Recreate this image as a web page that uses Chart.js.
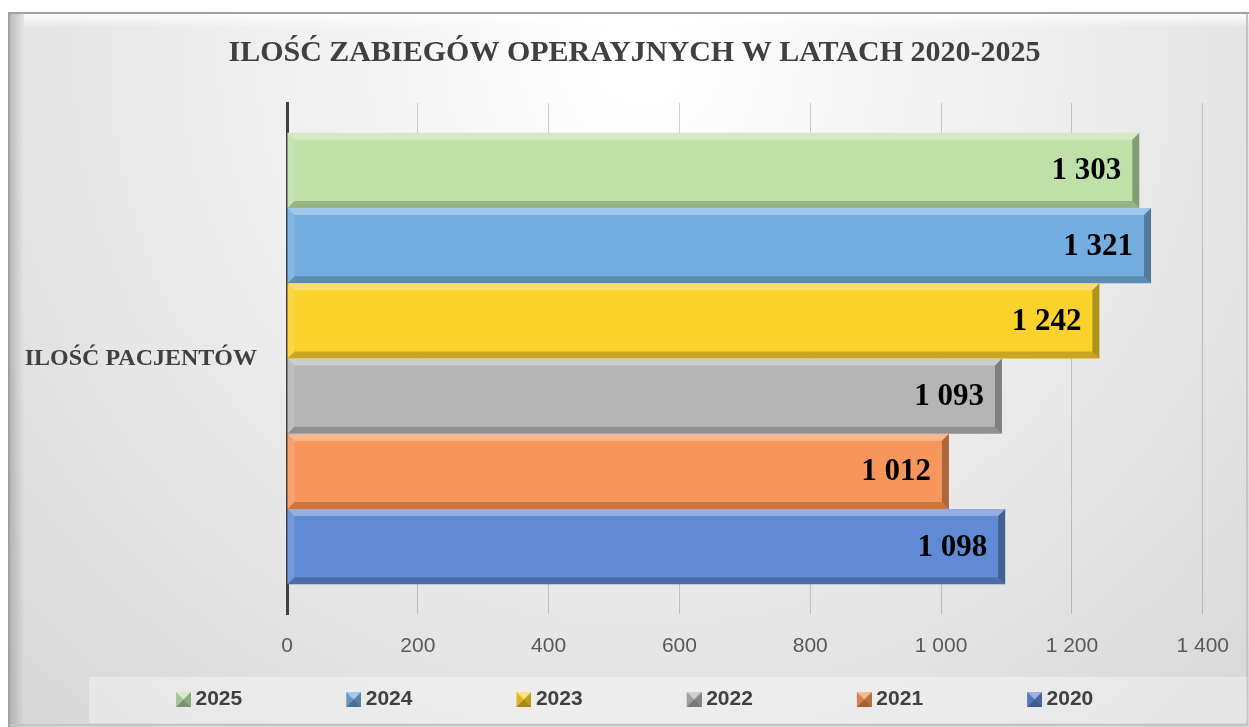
<!DOCTYPE html>
<html lang="pl">
<head>
<meta charset="utf-8">
<title>Ilość zabiegów operacyjnych</title>
<script src="https://cdn.jsdelivr.net/npm/chart.js@4/dist/chart.umd.min.js"></script>
<style>
  html, body { margin: 0; padding: 0; background: #ffffff; }
  #wrap { width: 1249px; height: 727px; }
</style>
</head>
<body>
<div id="wrap"><canvas id="myChart" width="1249" height="727"></canvas></div>
<script>
'use strict';

// Data

let categories = ['ILOŚĆ PACJENTÓW'];
let years = ['2025', '2024', '2023', '2022', '2021', '2020'];
let values2025 = [1303];
let values2024 = [1321];
let values2023 = [1242];
let values2022 = [1093];
let values2021 = [1012];
let values2020 = [1098];
let seriesValues = [values2025, values2024, values2023, values2022, values2021, values2020];
let seriesColors = ['#bfe1a9', '#74aee0', '#fbd22b', '#b5b5b5', '#f6965a', '#608ad3'];
let tickValues = [0, 200, 400, 600, 800, 1000, 1200, 1400];
let chartTitle = 'ILOŚĆ ZABIEGÓW OPERAYJNYCH W LATACH 2020-2025';

// Helpers

function fmt(v) {
  return String(v).replace(/\B(?=(\d{3})+(?!\d))/g, ' ');
}

function shade(ctx, pts, color) {
  ctx.beginPath();
  ctx.moveTo(pts[0][0], pts[0][1]);
  for (let i = 1; i < pts.length; i++) {
    ctx.lineTo(pts[i][0], pts[i][1]);
  }
  ctx.closePath();
  ctx.fillStyle = color;
  ctx.fill();
}

// legend marker: transparent lead-in with a small bevelled square at the right end
let legendSlot = 103;
function makeMarker(color) {
  let c = document.createElement('canvas');
  c.width = legendSlot + 12;
  c.height = 15;
  let g = c.getContext('2d');
  let l = c.width - 15, t = 0, r = c.width, b = 15, m = 7.5;
  g.fillStyle = color;
  g.fillRect(l, t, 15, 15);
  shade(g, [[l, t], [r, t], [l + m, t + m]], 'rgba(255,255,255,0.35)');
  shade(g, [[r, t], [r, b], [l + m, t + m]], 'rgba(0,0,0,0.25)');
  shade(g, [[l, b], [r, b], [l + m, t + m]], 'rgba(0,0,0,0.35)');
  shade(g, [[l, t], [l, b], [l + m, t + m]], 'rgba(0,0,0,0.12)');
  return c;
}

// Background + frame

let backgroundPlugin = {
  id: 'backgroundPlugin',
  afterLayout(chart) {
    // let the category label run past the narrowed axis box, re-centre the title
    chart.scales.y.left = 0;
    chart.titleBlock.left = 40;
  },
  beforeDraw(chart) {
    let ctx = chart.ctx;
    let w = chart.width, h = chart.height;
    ctx.save();
    ctx.fillStyle = '#ffffff';
    ctx.fillRect(0, 0, w, h);

    let grad = ctx.createRadialGradient(640, 60, 20, 640, 60, 900);
    grad.addColorStop(0, '#ffffff');
    grad.addColorStop(0.5, '#ececec');
    grad.addColorStop(1, '#d8d8d8');
    ctx.fillStyle = grad;
    ctx.fillRect(8, 12, w - 8, h - 12);

    // left bevel
    let lg = ctx.createLinearGradient(10, 0, 24, 0);
    lg.addColorStop(0, 'rgba(0,0,0,0.18)');
    lg.addColorStop(1, 'rgba(0,0,0,0)');
    ctx.fillStyle = lg;
    ctx.fillRect(10, 14, 14, h - 14);

    // top bevel
    let tg = ctx.createLinearGradient(0, 14, 0, 28);
    tg.addColorStop(0, 'rgba(255,255,255,0.95)');
    tg.addColorStop(1, 'rgba(255,255,255,0)');
    ctx.fillStyle = tg;
    ctx.fillRect(24, 14, w - 24, 14);

    // frame line
    ctx.strokeStyle = '#a2a2a2';
    ctx.lineWidth = 2;
    ctx.beginPath();
    ctx.moveTo(9, h);
    ctx.lineTo(9, 13);
    ctx.lineTo(w, 13);
    ctx.stroke();
    ctx.strokeStyle = '#c4c4c4';
    ctx.beginPath();
    ctx.moveTo(10, h - 2);
    ctx.lineTo(w - 2, h - 2);
    ctx.lineTo(w - 2, 14);
    ctx.stroke();

    // legend band
    let lgd = chart.legend;
    ctx.fillStyle = 'rgba(255,255,255,0.35)';
    ctx.fillRect(89, lgd.top - 2, w - 91, lgd.height + 5);
    ctx.restore();
  }
};

// Bevel on bars

let bevelPlugin = {
  id: 'bevelPlugin',
  afterDatasetsDraw(chart) {
    let ctx = chart.ctx;
    ctx.save();
    chart.data.datasets.forEach((ds, i) => {
      let meta = chart.getDatasetMeta(i);
      meta.data.forEach((bar) => {
        let p = bar.getProps(['x', 'y', 'base', 'height'], true);
        let L = p.base, R = p.x, T = p.y - p.height / 2, B = p.y + p.height / 2, k = 7;
        shade(ctx, [[L, T], [R, T], [R - k, T + k], [L + k, T + k]], 'rgba(255,255,255,0.32)');
        shade(ctx, [[L, B], [R, B], [R - k, B - k], [L + k, B - k]], 'rgba(0,0,0,0.2)');
        shade(ctx, [[R, T], [R, B], [R - k, B - k], [R - k, T + k]], 'rgba(0,0,0,0.3)');
        shade(ctx, [[L, T], [L, B], [L + k, B - k], [L + k, T + k]], 'rgba(255,255,255,0.12)');
      });
    });
    ctx.restore();
  }
};

// Value labels

let valueLabelPlugin = {
  id: 'valueLabelPlugin',
  afterDraw(chart) {
    let ctx = chart.ctx;
    ctx.save();
    ctx.font = 'bold 31px "Liberation Serif", "DejaVu Serif", serif';
    ctx.fillStyle = '#000000';
    ctx.textAlign = 'right';
    ctx.textBaseline = 'middle';
    chart.data.datasets.forEach((ds, i) => {
      let meta = chart.getDatasetMeta(i);
      meta.data.forEach((bar, j) => {
        ctx.fillText(fmt(ds.data[j]), bar.x - 18, bar.y + 1);
      });
    });
    ctx.restore();
  }
};

// Chart

let datasets = [];
for (let i = 0; i < years.length; i++) {
  datasets.push({
    label: years[i],
    data: seriesValues[i],
    backgroundColor: seriesColors[i],
    borderWidth: 0,
    pointStyle: makeMarker(seriesColors[i]),
    categoryPercentage: 0.884,
    barPercentage: 1.0
  });
}

const ctx = document.getElementById('myChart').getContext('2d');
const myChart = new Chart(ctx, {
  type: 'bar',
  data: {
    labels: categories,
    datasets: datasets
  },
  plugins: [backgroundPlugin, bevelPlugin, valueLabelPlugin],
  options: {
    indexAxis: 'y',
    responsive: false,
    animation: false,
    layout: {
      padding: { top: 0, left: 72, right: 20, bottom: 7 }
    },
    plugins: {
      title: {
        display: true,
        text: chartTitle,
        color: '#404040',
        font: { family: '"Liberation Serif", "DejaVu Serif", serif', size: 30, weight: 'bold', lineHeight: 1.2 },
        padding: { top: 35, bottom: 32 }
      },
      legend: {
        position: 'bottom',
        align: 'start',
        labels: {
          usePointStyle: true,
          pointStyleWidth: legendSlot,
          padding: 10,
          color: '#404040',
          font: { family: '"Liberation Sans", sans-serif', size: 21, weight: 'bold' }
        }
      },
      tooltip: { enabled: false }
    },
    scales: {
      x: {
        min: 0,
        max: 1400,
        z: 1,
        afterBuildTicks: (scale) => {
          scale.ticks = tickValues.map((v) => ({ value: v }));
        },
        afterFit: (scale) => {
          scale.height = 65;
        },
        grid: {
          color: 'rgba(0,0,0,0.18)',
          lineWidth: 1,
          drawTicks: false
        },
        border: { display: false },
        ticks: {
          padding: 20,
          color: '#595959',
          font: { family: '"Liberation Sans", sans-serif', size: 21 },
          callback: (v) => fmt(v)
        }
      },
      y: {
        z: 1,
        afterFit: (scale) => {
          scale.width = 287 - 72;
        },
        grid: { display: false, drawTicks: false },
        border: { display: true, color: '#404040', width: 3 },
        ticks: {
          padding: 30,
          color: '#404040',
          font: { family: '"Liberation Serif", "DejaVu Serif", serif', size: 24, weight: 'bold' }
        }
      }
    }
  }
});
</script>
</body>
</html>
